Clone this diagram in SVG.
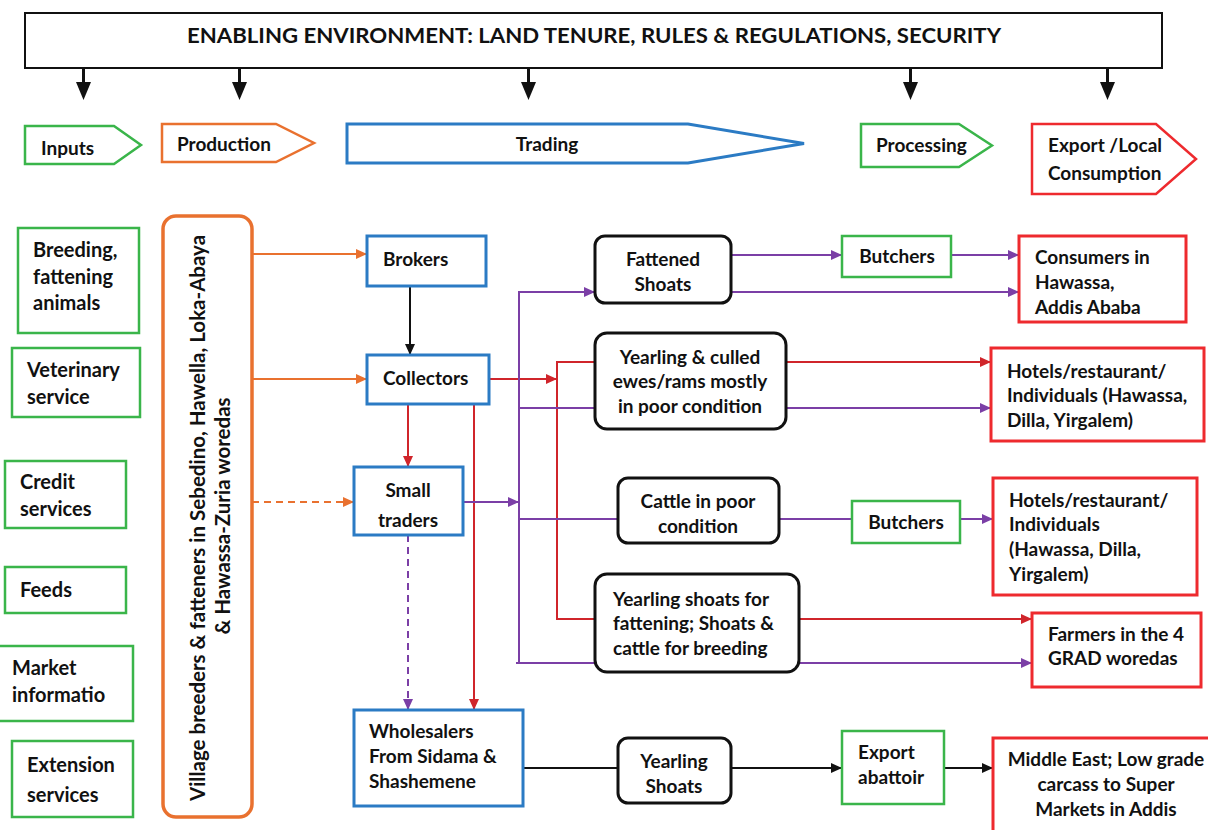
<svg xmlns="http://www.w3.org/2000/svg" width="1208" height="830" viewBox="0 0 1208 830">
<style>
text{font-family:Lato,"Liberation Sans",sans-serif;font-weight:bold;font-size:19px;fill:#111}
.in text{font-size:20px}
.g{fill:#fff;stroke:#3AB54A;stroke-width:2.5}
.o{fill:#fff;stroke:#E9712F;stroke-width:3.5}
.b{fill:#fff;stroke:#2B7BC4;stroke-width:3}
.r{fill:#fff;stroke:#EE2A2E;stroke-width:3}
.k{fill:#fff;stroke:#111;stroke-width:3}
.m{text-anchor:middle}
.lo{stroke:#E9712F;stroke-width:2;fill:none}
.lr{stroke:#D0252B;stroke-width:2;fill:none}
.lp{stroke:#7B3FA6;stroke-width:2;fill:none}
.lk{stroke:#111;stroke-width:2;fill:none}
.dash{stroke-dasharray:7 5}
</style>
<defs>
<marker id="ao" markerUnits="userSpaceOnUse" markerWidth="12" markerHeight="12" viewBox="0 0 12 12" refX="11" refY="6" orient="auto"><path d="M0,1 L11,6 L0,11 z" fill="#E9712F"/></marker>
<marker id="ar" markerUnits="userSpaceOnUse" markerWidth="12" markerHeight="12" viewBox="0 0 12 12" refX="11" refY="6" orient="auto"><path d="M0,1 L11,6 L0,11 z" fill="#D0252B"/></marker>
<marker id="ap" markerUnits="userSpaceOnUse" markerWidth="12" markerHeight="12" viewBox="0 0 12 12" refX="11" refY="6" orient="auto"><path d="M0,1 L11,6 L0,11 z" fill="#7B3FA6"/></marker>
<marker id="ak" markerUnits="userSpaceOnUse" markerWidth="12" markerHeight="12" viewBox="0 0 12 12" refX="11" refY="6" orient="auto"><path d="M0,1 L11,6 L0,11 z" fill="#111"/></marker>
</defs>

<g id="header">
<rect x="25" y="13" width="1137" height="55" fill="#fff" stroke="#111" stroke-width="2"/>
<text x="594" y="43" class="m" style="font-size:20px" textLength="814" lengthAdjust="spacingAndGlyphs">ENABLING ENVIRONMENT: LAND TENURE, RULES &amp; REGULATIONS, SECURITY</text>
</g>

<g id="env-arrows" fill="#111">
<rect x="82" y="68" width="3" height="15"/><path d="M76,82 L91,82 L83.5,100 z"/>
<rect x="238" y="68" width="3" height="15"/><path d="M232,82 L247,82 L239.5,100 z"/>
<rect x="527" y="68" width="3" height="15"/><path d="M521,82 L536,82 L528.5,100 z"/>
<rect x="909" y="68" width="3" height="15"/><path d="M903,82 L918,82 L910.5,100 z"/>
<rect x="1106" y="68" width="3" height="15"/><path d="M1100,82 L1115,82 L1107.5,100 z"/>
</g>

<g id="stage-inputs"><polygon class="g" points="25,126 114,126 141,145 114,164 25,164"/><text x="41" y="155">Inputs</text></g>
<g id="stage-production"><polygon class="o" style="stroke-width:2.5" points="162,124 276,124 314,143 276,162 162,162"/><text x="177" y="151">Production</text></g>
<g id="stage-trading"><polygon class="b" points="347,124 688,124 804,143.5 688,163 347,163"/><text x="547" y="151" class="m">Trading</text></g>
<g id="stage-processing"><polygon class="g" points="861,124 959,124 992,145.5 959,167 861,167"/><text x="876" y="152">Processing</text></g>
<g id="stage-export"><polygon class="r" style="stroke-width:2.5" points="1032,124 1156,124 1196,159 1156,194 1032,194"/><text x="1048" y="152">Export /Local</text><text x="1048" y="180">Consumption</text></g>

<g class="in">
<g id="in-breeding"><rect class="g" x="18" y="228" width="121" height="105"/><text x="33" y="257">Breeding,</text><text x="33" y="284">fattening</text><text x="33" y="310">animals</text></g>
<g id="in-vet"><rect class="g" x="12" y="348" width="128" height="69"/><text x="27" y="377">Veterinary</text><text x="27" y="404">service</text></g>
<g id="in-credit"><rect class="g" x="5" y="461" width="121" height="67"/><text x="20" y="489">Credit</text><text x="20" y="516">services</text></g>
<g id="in-feeds"><rect class="g" x="5" y="567" width="121" height="46"/><text x="20" y="597">Feeds</text></g>
<g id="in-market"><rect class="g" x="-2" y="646" width="135" height="75"/><text x="12" y="675">Market</text><text x="12" y="702">informatio</text></g>
<g id="in-extension"><rect class="g" x="12" y="741" width="121" height="76"/><text x="27" y="772">Extension</text><text x="27" y="802">services</text></g>
</g>

<g id="producers">
<rect class="o" x="163" y="216" width="89" height="601" rx="13"/>
<text class="m" style="font-size:20.5px" transform="translate(205,518) rotate(-90)">Village breeders &amp; fatteners in Sebedino, Hawella, Loka-Abaya</text>
<text class="m" style="font-size:20.5px" transform="translate(230,516) rotate(-90)">&amp; Hawassa-Zuria woredas</text>
</g>

<g id="connectors">
<line class="lo" x1="252" y1="254" x2="367" y2="254" marker-end="url(#ao)"/>
<line class="lo" x1="252" y1="379" x2="367" y2="379" marker-end="url(#ao)"/>
<line class="lo dash" x1="252" y1="502" x2="354" y2="502" marker-end="url(#ao)"/>
<line class="lk" x1="410" y1="286" x2="410" y2="355" marker-end="url(#ak)"/>
<line class="lr" x1="489" y1="379" x2="557" y2="379" marker-end="url(#ar)"/>
<line class="lr" x1="557" y1="362" x2="557" y2="619"/>
<line class="lr" x1="556" y1="362" x2="595" y2="362"/>
<line class="lr" x1="786" y1="362" x2="991" y2="362" marker-end="url(#ar)"/>
<line class="lr" x1="556" y1="619" x2="595" y2="619"/>
<line class="lr" x1="799" y1="619" x2="1032" y2="619" marker-end="url(#ar)"/>
<line class="lr" x1="408" y1="404" x2="408" y2="467" marker-end="url(#ar)"/>
<line class="lr" x1="474" y1="404" x2="474" y2="710" marker-end="url(#ar)"/>
<line class="lp" x1="463" y1="502" x2="519" y2="502" marker-end="url(#ap)"/>
<line class="lp" x1="519" y1="291" x2="519" y2="664"/>
<line class="lp" x1="518" y1="292" x2="595" y2="292" marker-end="url(#ap)"/>
<line class="lp" x1="518" y1="408" x2="595" y2="408"/>
<line class="lp" x1="518" y1="519" x2="618" y2="519"/>
<line class="lp" x1="516" y1="663" x2="595" y2="663"/>
<line class="lp" x1="731" y1="255" x2="842" y2="255" marker-end="url(#ap)"/>
<line class="lp" x1="951" y1="255" x2="1019" y2="255" marker-end="url(#ap)"/>
<line class="lp" x1="731" y1="292" x2="1019" y2="292" marker-end="url(#ap)"/>
<line class="lp" x1="786" y1="408" x2="991" y2="408" marker-end="url(#ap)"/>
<line class="lp" x1="779" y1="519" x2="852" y2="519"/>
<line class="lp" x1="960" y1="519" x2="993" y2="519" marker-end="url(#ap)"/>
<line class="lp" x1="799" y1="663" x2="1032" y2="663" marker-end="url(#ap)"/>
<line class="lp dash" x1="408" y1="535" x2="408" y2="710" marker-end="url(#ap)"/>
<line class="lk" x1="523" y1="768" x2="618" y2="768"/>
<line class="lk" x1="731" y1="768" x2="842" y2="768" marker-end="url(#ak)"/>
<line class="lk" x1="944" y1="768" x2="993" y2="768" marker-end="url(#ak)"/>
</g>

<g id="brokers"><rect class="b" x="367" y="236" width="119" height="50"/><text x="383" y="266">Brokers</text></g>
<g id="collectors"><rect class="b" x="367" y="355" width="122" height="49"/><text x="383" y="385">Collectors</text></g>
<g id="small-traders"><rect class="b" x="354" y="467" width="109" height="68"/><text x="408" y="497" class="m">Small</text><text x="408" y="527" class="m">traders</text></g>
<g id="wholesalers"><rect class="b" x="354" y="710" width="169" height="96"/><text x="369" y="738">Wholesalers</text><text x="369" y="763">From Sidama &amp;</text><text x="369" y="788">Shashemene</text></g>

<g id="fattened-shoats"><rect class="k" x="595" y="236" width="136" height="67" rx="10"/><text x="663" y="266" class="m">Fattened</text><text x="663" y="291" class="m">Shoats</text></g>
<g id="yearling-culled"><rect class="k" x="595" y="333" width="191" height="96" rx="12"/><text x="690" y="364" class="m">Yearling &amp; culled</text><text x="690" y="388" class="m">ewes/rams mostly</text><text x="690" y="413" class="m">in poor condition</text></g>
<g id="cattle-poor"><rect class="k" x="618" y="478" width="161" height="65" rx="10"/><text x="698" y="508" class="m">Cattle in poor</text><text x="698" y="533" class="m">condition</text></g>
<g id="yearling-fattening"><rect class="k" x="595" y="574" width="204" height="98" rx="12"/><text x="613" y="606">Yearling shoats for</text><text x="613" y="630">fattening; Shoats &amp;</text><text x="613" y="655">cattle for breeding</text></g>
<g id="yearling-shoats"><rect class="k" x="618" y="738" width="113" height="65" rx="10"/><text x="674" y="768" class="m">Yearling</text><text x="674" y="793" class="m">Shoats</text></g>

<g id="butchers-1"><rect class="g" x="842" y="236" width="109" height="41"/><text x="897" y="263" class="m">Butchers</text></g>
<g id="butchers-2"><rect class="g" x="852" y="501" width="108" height="42"/><text x="906" y="529" class="m">Butchers</text></g>
<g id="export-abattoir"><rect class="g" x="842" y="731" width="102" height="73"/><text x="858" y="759">Export</text><text x="858" y="784">abattoir</text></g>

<g id="consumers"><rect class="r" x="1019" y="236" width="167" height="86"/><text x="1035" y="264">Consumers in</text><text x="1035" y="289">Hawassa,</text><text x="1035" y="314">Addis Ababa</text></g>
<g id="hotels-1"><rect class="r" x="991" y="348" width="213" height="93"/><text x="1007" y="378">Hotels/restaurant/</text><text x="1007" y="402">Individuals (Hawassa,</text><text x="1007" y="427">Dilla, Yirgalem)</text></g>
<g id="hotels-2"><rect class="r" x="993" y="478" width="204" height="117"/><text x="1009" y="507">Hotels/restaurant/</text><text x="1009" y="531">Individuals</text><text x="1009" y="556">(Hawassa, Dilla,</text><text x="1009" y="581">Yirgalem)</text></g>
<g id="farmers"><rect class="r" x="1032" y="613" width="169" height="74"/><text x="1048" y="641">Farmers in the 4</text><text x="1048" y="665">GRAD woredas</text></g>
<g id="middle-east"><rect class="r" x="993" y="738" width="222" height="112"/><text x="1106" y="766" class="m">Middle East; Low grade</text><text x="1106" y="791" class="m">carcass to Super</text><text x="1106" y="816" class="m">Markets in Addis</text></g>
</svg>
